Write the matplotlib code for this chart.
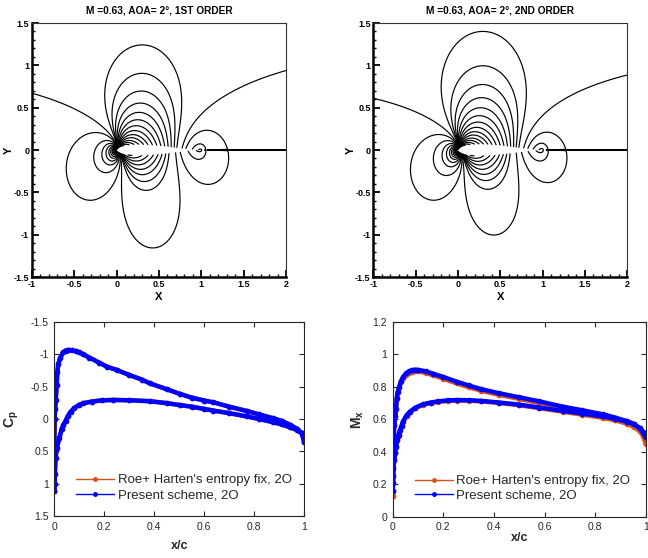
import numpy as np
import matplotlib
matplotlib.use("Agg")
import matplotlib.pyplot as plt
from matplotlib.ticker import MultipleLocator, FuncFormatter
from matplotlib.lines import Line2D

plt.rcParams['axes.unicode_minus'] = False

# ---------------- flow conditions / contour panels ----------------
MACH = 0.63
panel_titles = ["M =0.63, AOA= 2°, 1ST ORDER", "M =0.63, AOA= 2°, 2ND ORDER"]
# equivalent-field parameters per panel (circulation angle, thickness)
field_aoa = [1.2, 1.45]
field_thickness = [0.14, 0.15]
# pressure-coefficient contour levels of each panel
levels_1st = [-1.05, -0.95, -0.85, -0.76, -0.68, -0.6, -0.53, -0.46, -0.4, -0.34, -0.285,
              -0.235, -0.19, -0.15, -0.115, -0.083, -0.055, 0.0, 0.038, 0.1, 0.16, 0.22,
              0.29, 0.36, 0.44, 0.52, 0.61, 0.7, 0.8, 0.9, 1.0, 1.1, 1.2]
levels_2nd = [-1.05, -0.95, -0.85, -0.76, -0.68, -0.6, -0.53, -0.46, -0.4, -0.34, -0.285,
              -0.235, -0.19, -0.15, -0.115, -0.084, -0.054, 0.0, 0.045, 0.1, 0.16, 0.22,
              0.29, 0.36, 0.44, 0.52, 0.61, 0.7, 0.8, 0.9, 1.0, 1.1, 1.2]
panel_levels = [levels_1st, levels_2nd]

# ---------------- surface data (x/c) ----------------
cp_up_x = [0.0, 0.0005, 0.001, 0.003, 0.0056, 0.0096, 0.012, 0.016, 0.023, 0.035, 0.045, 0.056,
           0.07, 0.085, 0.1, 0.116, 0.14, 0.18, 0.21, 0.25, 0.3, 0.35, 0.383, 0.45, 0.503, 0.55,
           0.6, 0.636, 0.7, 0.77, 0.82, 0.876, 0.91, 0.943, 0.97, 0.99, 1.0]
cp_up_roe = [1.12, 0.5, 0.0, -0.15, -0.29, -0.53, -0.73, -0.85, -0.94, -1.03, -1.06, -1.07,
             -1.065, -1.05, -1.03, -1.0, -0.95, -0.87, -0.81, -0.758, -0.68, -0.61, -0.55,
             -0.46, -0.387, -0.33, -0.285, -0.258, -0.19, -0.124, -0.07, -0.01, 0.03, 0.09,
             0.15, 0.22, 0.35]
cp_up_new = [1.12, 0.5, 0.0, -0.15, -0.29, -0.53, -0.73, -0.85, -0.94, -1.03, -1.055, -1.065,
             -1.06, -1.05, -1.03, -1.0, -0.95, -0.87, -0.81, -0.758, -0.68, -0.61, -0.55,
             -0.46, -0.387, -0.33, -0.285, -0.258, -0.19, -0.124, -0.07, -0.01, 0.03, 0.09,
             0.15, 0.22, 0.35]
cp_lo_x = [0.0, 0.001, 0.002, 0.005, 0.01, 0.02, 0.03, 0.036, 0.045, 0.055, 0.065, 0.08, 0.1,
           0.116, 0.15, 0.19, 0.236, 0.3, 0.383, 0.45, 0.503, 0.55, 0.6, 0.636, 0.7, 0.77, 0.82,
           0.876, 0.91, 0.943, 0.97, 0.99, 1.0]
cp_lo_roe = [1.12, 1.01, 0.85, 0.6, 0.45, 0.3, 0.15, 0.1, 0.03, -0.05, -0.11, -0.17, -0.22,
             -0.243, -0.27, -0.288, -0.295, -0.29, -0.275, -0.245, -0.215, -0.19, -0.155,
             -0.13, -0.09, -0.04, 0.0, 0.05, 0.085, 0.128, 0.17, 0.22, 0.35]
cp_lo_new = [1.12, 1.01, 0.85, 0.6, 0.45, 0.3, 0.15, 0.1, 0.03, -0.05, -0.11, -0.17, -0.22,
             -0.243, -0.27, -0.288, -0.295, -0.29, -0.275, -0.245, -0.215, -0.19, -0.155,
             -0.13, -0.09, -0.04, 0.0, 0.05, 0.085, 0.128, 0.17, 0.22, 0.35]

mx_up_x = [0.0, 0.001, 0.002, 0.004, 0.006, 0.01, 0.013, 0.016, 0.02, 0.026, 0.033, 0.042,
           0.053, 0.065, 0.076, 0.088, 0.1, 0.13, 0.16, 0.2, 0.253, 0.3, 0.35, 0.42, 0.5, 0.58,
           0.674, 0.75, 0.832, 0.88, 0.925, 0.955, 0.977, 0.99, 1.0]
mx_up_roe = [0.13, 0.25, 0.36, 0.47, 0.565, 0.62, 0.66, 0.725, 0.765, 0.795, 0.83, 0.855,
             0.875, 0.887, 0.893, 0.895, 0.894, 0.885, 0.87, 0.85, 0.82, 0.797, 0.775, 0.75,
             0.725, 0.70, 0.672, 0.648, 0.620, 0.598, 0.575, 0.553, 0.525, 0.50, 0.45]
mx_up_new = [0.16, 0.25, 0.36, 0.47, 0.565, 0.62, 0.66, 0.73, 0.77, 0.80, 0.835, 0.862,
             0.882, 0.895, 0.902, 0.905, 0.904, 0.895, 0.88, 0.86, 0.831, 0.808, 0.785, 0.76,
             0.735, 0.71, 0.677, 0.655, 0.630, 0.61, 0.589, 0.57, 0.544, 0.52, 0.49]
mx_lo_x = [0.0, 0.001, 0.003, 0.006, 0.009, 0.013, 0.018, 0.023, 0.029, 0.035, 0.042, 0.055,
           0.068, 0.09, 0.12, 0.15, 0.18, 0.22, 0.253, 0.3, 0.35, 0.42, 0.5, 0.58, 0.674, 0.75,
           0.832, 0.88, 0.925, 0.955, 0.977, 0.99, 1.0]
mx_lo_roe = [0.13, 0.21, 0.30, 0.35, 0.39, 0.43, 0.47, 0.50, 0.53, 0.557, 0.585, 0.62, 0.643,
             0.668, 0.688, 0.70, 0.707, 0.713, 0.715, 0.714, 0.71, 0.70, 0.686, 0.668, 0.646,
             0.628, 0.608, 0.593, 0.573, 0.553, 0.528, 0.50, 0.45]
mx_lo_new = [0.16, 0.21, 0.30, 0.35, 0.39, 0.43, 0.472, 0.505, 0.534, 0.56, 0.589, 0.625,
             0.647, 0.672, 0.692, 0.703, 0.71, 0.716, 0.718, 0.717, 0.713, 0.703, 0.69, 0.672,
             0.651, 0.635, 0.617, 0.603, 0.585, 0.568, 0.544, 0.52, 0.49]

legend_labels = ["Roe+ Harten's entropy fix, 2O", "Present scheme, 2O"]
ORANGE = "#D95319"
BLUE = "#0000FF"
BETA = np.sqrt(1.0 - MACH ** 2)


def airfoil_field(aoa_deg, thickness):
    """Prandtl-Glauert corrected Joukowski-airfoil pressure field on an O-grid."""
    c = 0.25
    eps = thickness * BETA / 1.299
    zc = -eps * c + 0j
    a = c * (1.0 + eps)
    r = a * np.exp(np.linspace(0.0, np.log(60.0), 420))
    th = np.linspace(0.0, 2 * np.pi, 1801)
    R, T = np.meshgrid(r, th)
    s = R * np.exp(1j * T)
    zeta = zc + s
    z = zeta + c ** 2 / zeta
    al = np.radians(aoa_deg)
    gam = 4 * np.pi * a * np.sin(al)
    dF = np.exp(-1j * al) - a ** 2 * np.exp(1j * al) / s ** 2 + 1j * gam / (2 * np.pi * s)
    dz = 1.0 - c ** 2 / zeta ** 2
    with np.errstate(all="ignore"):
        w = dF / dz
        cp = (1.0 - np.abs(w) ** 2) / BETA
    bad = ~np.isfinite(cp[:, 0])
    cp[bad, 0] = cp[bad, 1]
    xle = np.min(z.real[:, 0])
    xte = 2 * c
    X = (z.real - xle) / (xte - xle)
    Y = z.imag / BETA / (xte - xle)
    # thin numerical wake downstream of the trailing edge
    g = np.exp(-(Y / 0.004) ** 2) * 0.5 * (1 + np.tanh((X - 1.06) / 0.02))
    cp = cp * (1 - g) - 0.001 * g
    return X, Y, cp


W, H = 648, 558
fig = plt.figure(figsize=(W / 100, H / 100), dpi=100)
FONT = "Liberation Sans"


def fx(px):
    return px / W


def fy(py):
    return 1 - py / H


contour_boxes = [(32, 23, 286, 277), (373.3, 23, 627.3, 277)]
ylabel_x = [10, 352]

for k, (l, t, r, b) in enumerate(contour_boxes):
    ax = fig.add_axes([fx(l), fy(b), fx(r - l), (b - t) / H])
    X, Y, CP = airfoil_field(field_aoa[k], field_thickness[k])
    ax.contour(X, Y, CP, levels=panel_levels[k], colors="black", linewidths=0.85,
               linestyles="solid")
    ax.set_xlim(-1, 2)
    ax.set_ylim(-1.5, 1.5)
    ax.xaxis.set_major_locator(MultipleLocator(0.5))
    ax.yaxis.set_major_locator(MultipleLocator(0.5))
    ax.xaxis.set_minor_locator(MultipleLocator(0.1))
    ax.yaxis.set_minor_locator(MultipleLocator(0.1))
    fmt = FuncFormatter(lambda v, p: "%g" % v)
    ax.xaxis.set_major_formatter(fmt)
    ax.yaxis.set_major_formatter(fmt)
    ax.tick_params(which="both", direction="in", top=False, right=False, color="black",
                   labelsize=6.5, pad=2)
    ax.tick_params(which="major", length=5, width=1.3)
    ax.tick_params(which="minor", length=2.5, width=1.0)
    for lab in ax.get_xticklabels() + ax.get_yticklabels():
        lab.set_fontweight("bold")
        lab.set_family(FONT)
    ax.spines["left"].set_linewidth(1.8)
    ax.spines["bottom"].set_linewidth(1.8)
    ax.spines["top"].set_linewidth(0.8)
    ax.spines["right"].set_linewidth(0.8)
    ax.spines["top"].set_color("#333333")
    ax.spines["right"].set_color("#333333")
    ax.set_title(panel_titles[k], fontsize=7.3, fontweight="bold", family=FONT, pad=7)
    ax.set_xlabel("X", fontsize=8, fontweight="bold", family=FONT)
    ax.set_ylabel("Y", fontsize=8, fontweight="bold", family=FONT)
    ax.xaxis.set_label_coords(0.5, (b - 292) / (b - t))
    ax.yaxis.set_label_coords((ylabel_x[k] + 4 - l) / (r - l), 0.5)

# ---------------- surface distribution panels ----------------
line_boxes = [(54.3, 322, 304.3, 516), (392.7, 321.7, 645.7, 516.8)]
xlabel_y = [540, 532]
ylabel_r = [21, 366]
GRAY = "#262626"


def style_matlab(ax):
    for sp in ax.spines.values():
        sp.set_color(GRAY)
        sp.set_linewidth(0.8)
    ax.tick_params(which="both", direction="in", top=True, right=True, color=GRAY,
                   labelcolor=GRAY, labelsize=7.5, length=3.5, width=0.8, pad=4)
    fmt = FuncFormatter(lambda v, p: "%g" % v)
    ax.xaxis.set_major_formatter(fmt)
    ax.yaxis.set_major_formatter(fmt)
    for lab in ax.get_xticklabels() + ax.get_yticklabels():
        lab.set_family(FONT)


handles = [Line2D([], [], color=ORANGE, lw=1, marker="o", ms=2.5),
           Line2D([], [], color=BLUE, lw=1, marker="o", ms=2.5)]
panels = [
    ([(cp_up_x, cp_up_roe, ORANGE), (cp_lo_x, cp_lo_roe, ORANGE),
      (cp_up_x, cp_up_new, BLUE), (cp_lo_x, cp_lo_new, BLUE)],
     (1.5, -1.5), 0.5, r"C$_\mathregular{p}$"),
    ([(mx_up_x, mx_up_roe, ORANGE), (mx_lo_x, mx_lo_roe, ORANGE),
      (mx_up_x, mx_up_new, BLUE), (mx_lo_x, mx_lo_new, BLUE)],
     (0, 1.2), 0.2, r"M$_\mathregular{x}$"),
]

for k, (series, ylim, ystep, ylab) in enumerate(panels):
    l, t, r, b = line_boxes[k]
    ax = fig.add_axes([fx(l), fy(b), fx(r - l), (b - t) / H])
    for xs, ys, col in series:
        ax.plot(xs, ys, color=col, lw=3.2, marker="o", ms=3, mec=col, mfc=col,
                solid_capstyle="round", solid_joinstyle="round")
    ax.set_xlim(0, 1)
    ax.set_ylim(*ylim)
    ax.xaxis.set_major_locator(MultipleLocator(0.2))
    ax.yaxis.set_major_locator(MultipleLocator(ystep))
    style_matlab(ax)
    ax.set_xlabel("x/c", fontsize=9, fontweight="bold", family=FONT, color=GRAY)
    ax.set_ylabel(ylab, fontsize=10, fontweight="bold", family=FONT, color=GRAY)
    ax.xaxis.set_label_coords(0.5, (b - xlabel_y[k]) / (b - t))
    ax.yaxis.set_label_coords((ylabel_r[k] - l) / (r - l), 0.5)
    ax.legend(handles, legend_labels, loc="lower left", bbox_to_anchor=(0.04, 0.015),
              frameon=False, prop={"family": FONT, "size": 9.5}, handlelength=2.9,
              handletextpad=0.25, labelspacing=0.2, labelcolor=GRAY)

fig.savefig("out.png", dpi=100)
